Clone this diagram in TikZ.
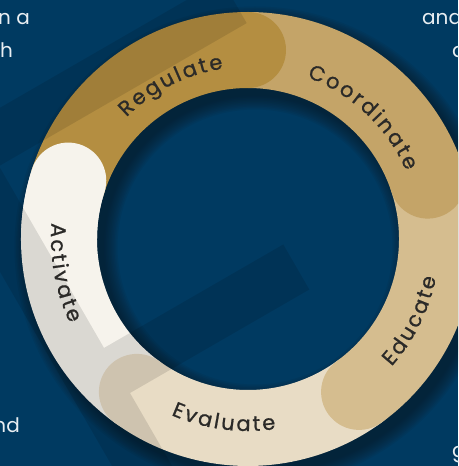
\documentclass[tikz,border=0pt]{standalone}
\usepackage{fontspec}
\setmainfont{Poppins}
\newfontfamily\ringfont[FakeBold=0.8]{Poppins}
\usetikzlibrary{decorations.text}
\definecolor{navy}{HTML}{003A61}
\definecolor{regcol}{HTML}{B48E41}
\definecolor{coocol}{HTML}{C4A468}
\definecolor{educol}{HTML}{D5BD8F}
\definecolor{evacol}{HTML}{E8DCC5}
\definecolor{actcol}{HTML}{F6F3EC}
\definecolor{ink}{HTML}{2B2A28}
\definecolor{paper}{HTML}{E9EEF2}
\definecolor{shadowcol}{HTML}{0E1A26}
\tikzset{
  seg/.style={line width=76pt,line cap=round},
  blurb/.style={text=paper,font=\fontsize{20}{20}\selectfont,inner sep=0pt},
  ringlabel/.style={decorate,decoration={text along path,text align=center,
    text={|\ringfont\fontsize{21}{21}\selectfont\color{ink}\kern2.4pt|#1}}}
}

\begin{document}
\begin{tikzpicture}[x=1pt,y=1pt]
  \useasboundingbox (0,0) rectangle (458,466);
  \clip (0,0) rectangle (458,466);
  \fill[navy] (0,0) rectangle (458,466);
  \coordinate (C) at (248,227);

  % soft shadow under the ring
  \foreach \k in {0,...,9}
    \draw[shadowcol,opacity=0.085,line width=76pt+3pt*\k] ([shift={(7,-8)}]C) circle[radius=189pt];

  % ring segments, each end cap over the next one
  \draw[seg,actcol] (C) ++(234:189pt) arc[start angle=234,end angle=162,radius=189pt];
  \draw[seg,evacol] (C) ++(306:189pt) arc[start angle=306,end angle=234,radius=189pt];
  \draw[seg,educol] (C) ++(18:189pt) arc[start angle=18,end angle=-54,radius=189pt];
  \draw[seg,coocol] (C) ++(90:189pt) arc[start angle=90,end angle=18,radius=189pt];
  \draw[seg,regcol] (C) ++(162:189pt) arc[start angle=162,end angle=90,radius=189pt];
  \draw[seg,actcol] (C) ++(180:189pt) arc[start angle=180,end angle=162,radius=189pt];

  % faint letter shape laid over everything
  \begin{scope}[shift={(130,73)},rotate=30]
    \fill[black,opacity=0.11] (-52,-300) -- (-52,312) -- (286,312) -- (286,262)
      -- (0,262) -- (0,52) -- (207,52) -- (207,0) -- (0,0) -- (0,-300) -- cycle;
  \end{scope}

  % labels along the ring
  \path[ringlabel=Regulate] (C) ++(162:172pt) arc[start angle=162,end angle=72,radius=172pt];
  \path[ringlabel=Coordinate] (C) ++(97:172pt) arc[start angle=97,end angle=-3,radius=172pt];
  \path[ringlabel=Educate] (C) ++(-72:192pt) arc[start angle=-72,end angle=18,radius=192pt];
  \path[ringlabel=Evaluate] (C) ++(-143:192pt) arc[start angle=-143,end angle=-53,radius=192pt];
  \path[ringlabel=Activate] (C) ++(145:197pt) arc[start angle=145,end angle=235,radius=197pt];

  % cut-off text at the edges
  \node[blurb,anchor=base east] (tl1) at (30,441) {n a};
  \node[blurb,anchor=base east] (tl2) at (13,408) {h};
  \node[blurb,anchor=base west] (tr1) at (422,441) {and};
  \node[blurb,anchor=base west] (tr2) at (452,408) {a};
  \node[blurb,anchor=base east] (bl1) at (20,34) {nd};
  \node[blurb,anchor=base west] (br1) at (452,9) {g};
\end{tikzpicture}
\end{document}
